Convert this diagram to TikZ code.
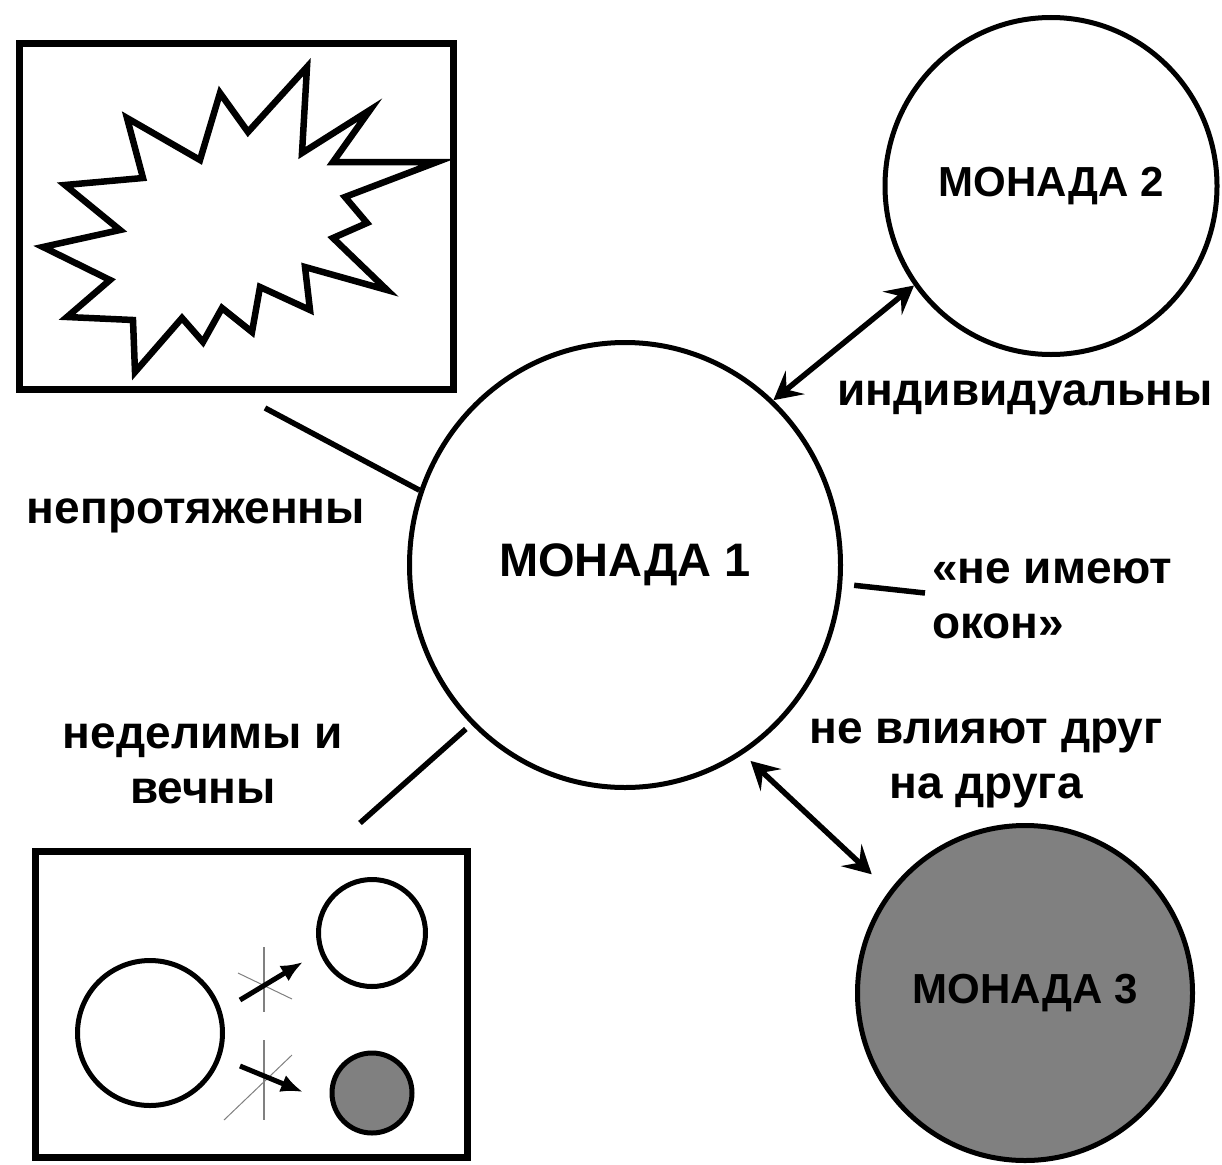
\documentclass[tikz,border=0pt]{standalone}
\usepackage{fontspec}
\setmainfont{Liberation Sans}
\usetikzlibrary{arrows.meta,shapes.geometric}

\begin{document}
\begin{tikzpicture}[x=1pt,y=-1pt,
  >={Stealth[length=28pt,width=30pt,inset=11pt]},
  monad/.style={ellipse, draw, line width=5pt, inner sep=0pt,
    font=\fontsize{42}{42}\selectfont\bfseries},
  txt/.style={font=\fontsize{46}{55}\selectfont\bfseries, inner sep=0pt},
  panel/.style={rectangle, draw, line width=7pt, inner sep=0pt},
  link/.style={line width=5.5pt},
  dot/.style={circle, draw, line width=5pt, inner sep=0pt},
  cross/.style={gray, line width=1.5pt}
  ]
  %
  \useasboundingbox (0,0) rectangle (1222,1164);

  % the three monads
  \node[monad, minimum width=431pt, minimum height=445pt,
    font=\fontsize{47}{47}\selectfont\bfseries] (M1) at (625,565) {МОНАДА 1};
  \node[monad, minimum width=332pt, minimum height=337pt] (M2) at (1051,186) {МОНАДА 2};
  \node[monad, fill=gray, minimum width=335pt, minimum height=335pt] (M3) at (1025,993) {МОНАДА 3};

  % upper left panel
  \node[panel, minimum width=434pt, minimum height=346pt] (B1) at (236.5,216.5) {};
  \draw[line width=6.5pt]
    (43,247) -- (110,280) -- (67,317) -- (133,320) -- (135,372)
    -- (182,318) -- (203,342) -- (222,308) -- (252,332) -- (260,287)
    -- (310,310) -- (305,267) -- (387,290) -- (333,238) -- (367,223)
    -- (345,197) -- (437,162) -- (333,162) -- (370,110) -- (302,153)
    -- (307,67) -- (248,132) -- (220,93) -- (200,160) -- (127,118)
    -- (143,178) -- (65,185) -- (120,230) -- cycle;

  % lower left panel
  \node[panel, minimum width=432pt, minimum height=306pt] (B2) at (251.5,1004.5) {};
  \node[dot, minimum size=145pt] (C0) at (150,1033) {};
  \node[dot, minimum size=107pt] (C1) at (372,933) {};
  \node[dot, fill=gray, minimum size=80pt] (C2) at (372,1093) {};
  \draw[cross] (264,947) -- (264,1012);
  \draw[cross, line width=1pt] (238,973) -- (292,999);
  \draw[cross] (264,1040) -- (264,1120);
  \draw[cross, line width=1pt] (292,1055) -- (224,1120);
  \coordinate (A1) at (240,1000);
  \coordinate (A2) at (303,962);
  \coordinate (A3) at (240,1066);
  \coordinate (A4) at (303,1092);
  \draw[line width=5pt, -{Latex[length=22pt,width=18pt]}] (A1) -- (A2);
  \draw[line width=5pt, -{Latex[length=22pt,width=18pt]}] (A3) -- (A4);

  % labels
  \node[txt, anchor=base] (L1) at (196,523) {непротяженны};
  \node[txt, anchor=base] (L2) at (1025,405) {индивидуальны};
  \node[txt, anchor=base west, align=left] (L3) at (932,638) {«не имеют\\окон»};
  \node[txt, anchor=base, align=center] (L4) at (986,798) {не влияют друг\\на друга};
  \node[txt, anchor=base, align=center] (L5) at (203,803) {неделимы и\\вечны};

  % connectors
  \coordinate (P1) at (265,408);
  \coordinate (P2) at (360,823);
  \coordinate (P3) at (925,593);
  \draw[link] (P1) -- (M1.160);
  \draw[link, shorten <=7pt] (M1.226) -- (P2);
  \draw[link, shorten <=12pt] (M1.-5) -- (P3);
  \draw[link, <->] (M1.48) -- (M2.216);
  \draw[link, <->, shorten <=10pt, shorten >=24pt] (M1.-58) -- (M3.143);

\end{tikzpicture}
\end{document}
